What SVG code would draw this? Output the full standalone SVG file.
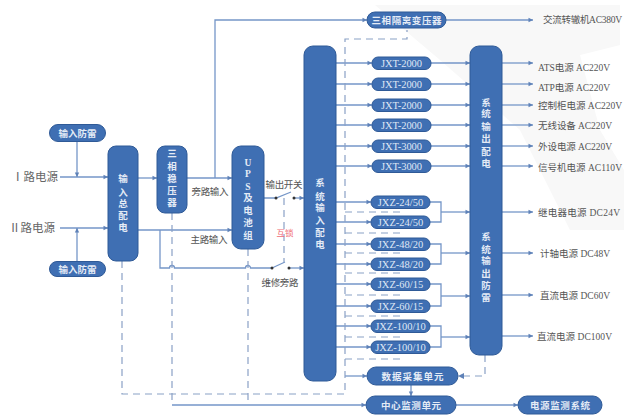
<svg xmlns="http://www.w3.org/2000/svg" width="624" height="417" viewBox="0 0 624 417">
<defs>
<marker id="a" markerUnits="userSpaceOnUse" markerWidth="6" markerHeight="6" refX="5" refY="3" orient="auto"><path d="M0.500,0.800L5,3L0.500,5.200Z" fill="#5f82b8"/></marker>
<style>
.f{font-family:"Noto Sans CJK SC","Liberation Serif",serif}
.n{fill:#3f6fb3;stroke:#2f5a97;stroke-width:1}
.s{fill:none;stroke:#7596c8;stroke-width:1.3}
.m{marker-end:url(#a)}
.d{fill:none;stroke:#8aa1c6;stroke-width:1.2;stroke-dasharray:7 5}
.w{fill:#dfe7f5;font-size:10.5px;text-anchor:middle;font-family:"Liberation Serif","Noto Sans CJK SC",serif}
.b{fill:#e4ebf6;font-size:9.500px;text-anchor:middle;font-family:"Noto Sans CJK SC","Liberation Serif",serif;font-weight:700}
.v{fill:#e4ebf6;font-size:9.500px;text-anchor:middle;font-family:"Liberation Serif","Noto Sans CJK SC",serif;font-weight:700}
.l{fill:#555;font-size:9.5px;font-family:"Liberation Serif","Noto Sans CJK SC",serif}
.g{fill:#666;font-size:11.500px;font-family:"Noto Sans CJK SC",serif}
.c{fill:#555;font-size:9.5px;text-anchor:middle;font-family:"Noto Sans CJK SC",serif}
</style>
</defs>
<rect width="624" height="417" fill="#fff"/>
<path d="M375,5L620,5L620,45L580,55L600,130L624,170L624,230L570,230L520,130L440,60Z" fill="#f8f8f8"/>
<g id="connectors">
<path class="s m" d="M60,177H108"/>
<path class="s m" d="M77,141V177"/>
<path class="s m" d="M60,228H108"/>
<path class="s m" d="M77,261V228"/>
<path class="s m" d="M138,178H157"/>
<path class="s m" d="M187,178H232"/>
<path class="s m" d="M215,178V20H367"/>
<path class="s m" d="M138,230H232"/>
<path class="s" d="M160,230V268H169.500a2.500,2.500 0 0 1 5,0H245.500a2.500,2.500 0 0 1 5,0H272"/>
<path class="s" d="M272,268L285,262"/>
<path class="s m" d="M289,268H304"/>
<path class="s" d="M264,198H276L291,192"/>
<path class="s m" d="M294,198H304"/>
<circle cx="276" cy="198" r="1.500" fill="#333"/><circle cx="294" cy="198" r="1.500" fill="#333"/>
<circle cx="272" cy="268" r="1.500" fill="#333"/><circle cx="289" cy="268" r="1.500" fill="#333"/>
<path class="s m" d="M446,20H533"/>
<path class="s m" d="M336,63H372"/><path class="s m" d="M431,63H470"/><path class="s m" d="M502,63H533"/>
<path class="s m" d="M336,84H372"/><path class="s m" d="M431,84H470"/><path class="s m" d="M502,84H533"/>
<path class="s m" d="M336,105H372"/><path class="s m" d="M431,105H470"/><path class="s m" d="M502,105H533"/>
<path class="s m" d="M336,125H372"/><path class="s m" d="M431,125H470"/><path class="s m" d="M502,125H533"/>
<path class="s m" d="M336,146H372"/><path class="s m" d="M431,146H470"/><path class="s m" d="M502,146H533"/>
<path class="s m" d="M336,166H372"/><path class="s m" d="M431,166H470"/><path class="s m" d="M502,166H533"/>
<path class="s m" d="M336,202H371"/><path class="s m" d="M336,222H371"/>
<path class="s m" d="M336,244H371"/><path class="s m" d="M336,264H371"/>
<path class="s m" d="M336,284H371"/><path class="s m" d="M336,306H371"/>
<path class="s m" d="M336,326H371"/><path class="s m" d="M336,347H371"/>
<path class="s" d="M430,202H441V222H430"/><path class="s m" d="M441,212H470"/><path class="s m" d="M502,212H533"/>
<path class="s" d="M430,244H441V264H430"/><path class="s m" d="M441,253H470"/><path class="s m" d="M502,253H533"/>
<path class="s" d="M430,284H441V306H430"/><path class="s m" d="M441,296H470"/><path class="s m" d="M502,295H533"/>
<path class="s" d="M430,326H441V347H430"/><path class="s m" d="M441,337H470"/><path class="s m" d="M502,336H533"/>
<path class="s m" d="M345,376H367"/>
<path class="s m" d="M411,385V396"/>
<path class="s m" d="M172,405H366"/>
<path class="s m" d="M456,405H518"/>
<path class="d" d="M122,261V394H345V39H407V30"/>
<path class="d" d="M172,213V405"/>
<path class="d" d="M248,249V405"/>
<path class="d" d="M284,198V262"/>
<path class="d" d="M345,212H400V207"/><path class="d" d="M345,233H400V228"/>
<path class="d" d="M345,253H400V250"/><path class="d" d="M345,273H400V270"/>
<path class="d" d="M345,295H400V290"/><path class="d" d="M345,316H400V312"/>
<path class="d" d="M345,337H400V332"/><path class="d" d="M345,359H400V353"/>
<path class="d" d="M485,355V376H460"/>
<path d="M464,373L458,376L464,379Z" fill="#5f82b8"/>
</g>
<g id="n1"><rect class="n" x="49.500" y="124.500" width="56" height="17" rx="8.500"/><text class="b" x="77.500" y="136.500" textLength="38">输入防雷</text></g>
<g id="n2"><rect class="n" x="49.500" y="261.500" width="56" height="15" rx="7.500"/><text class="b" x="77.500" y="272.500" textLength="38">输入防雷</text></g>
<g id="n3"><rect class="n" x="108" y="146" width="30" height="115" rx="8"/><text class="v"><tspan x="123" y="182">输</tspan><tspan x="123" y="196">入</tspan><tspan x="123" y="207">总</tspan><tspan x="123" y="219">配</tspan><tspan x="123" y="231">电</tspan></text></g>
<g id="n4"><rect class="n" x="157" y="146" width="30" height="67" rx="8"/><text class="v"><tspan x="172" y="157">三</tspan><tspan x="172" y="170">相</tspan><tspan x="172" y="182">稳</tspan><tspan x="172" y="194">压</tspan><tspan x="172" y="206">器</tspan></text></g>
<g id="n5"><rect class="n" x="232" y="146" width="32" height="103" rx="9"/><text class="v"><tspan x="248" y="166">U</tspan><tspan x="248" y="177">P</tspan><tspan x="248" y="190">S</tspan><tspan x="248" y="201">及</tspan><tspan x="248" y="214">电</tspan><tspan x="248" y="226">池</tspan><tspan x="248" y="239">组</tspan></text></g>
<g id="n6"><rect class="n" x="304" y="46" width="32" height="335" rx="9"/><text class="v"><tspan x="320" y="186">系</tspan><tspan x="320" y="200">统</tspan><tspan x="320" y="211">输</tspan><tspan x="320" y="224">入</tspan><tspan x="320" y="236">配</tspan><tspan x="320" y="248">电</tspan></text></g>
<g id="n7"><rect class="n" x="470" y="46" width="32" height="309" rx="9"/><text class="v"><tspan x="486" y="106">系</tspan><tspan x="486" y="117">统</tspan><tspan x="486" y="130">输</tspan><tspan x="486" y="142">出</tspan><tspan x="486" y="155">配</tspan><tspan x="486" y="167">电</tspan><tspan x="486" y="240">系</tspan><tspan x="486" y="253">统</tspan><tspan x="486" y="264">输</tspan><tspan x="486" y="277">出</tspan><tspan x="486" y="289">防</tspan><tspan x="486" y="301">雷</tspan></text></g>
<g id="n8"><rect class="n" x="367" y="12" width="79" height="16" rx="8"/><text class="b" x="406.500" y="24" textLength="70">三相隔离变压器</text></g>
<g id="j1"><rect class="n" x="372" y="57" width="59" height="12.500" rx="6"/><text class="w" x="401.500" y="67" textLength="41">JXT-2000</text></g>
<g id="j2"><rect class="n" x="372" y="78" width="59" height="12.500" rx="6"/><text class="w" x="401.500" y="88" textLength="41">JXT-2000</text></g>
<g id="j3"><rect class="n" x="372" y="99" width="59" height="12.500" rx="6"/><text class="w" x="401.500" y="109" textLength="41">JXT-2000</text></g>
<g id="j4"><rect class="n" x="372" y="119" width="59" height="12.500" rx="6"/><text class="w" x="401.500" y="129" textLength="41">JXT-2000</text></g>
<g id="j5"><rect class="n" x="372" y="140" width="59" height="12.500" rx="6"/><text class="w" x="401.500" y="150" textLength="41">JXT-3000</text></g>
<g id="j6"><rect class="n" x="372" y="160" width="59" height="12.500" rx="6"/><text class="w" x="401.500" y="170" textLength="41">JXT-3000</text></g>
<g id="z1"><rect class="n" x="371" y="196" width="59" height="12.500" rx="6"/><text class="w" x="400.500" y="206">JXZ-24/50</text></g>
<g id="z2"><rect class="n" x="371" y="216" width="59" height="12.500" rx="6"/><text class="w" x="400.500" y="226">JXZ-24/50</text></g>
<g id="z3"><rect class="n" x="371" y="238" width="59" height="12.500" rx="6"/><text class="w" x="400.500" y="248">JXZ-48/20</text></g>
<g id="z4"><rect class="n" x="371" y="258" width="59" height="12.500" rx="6"/><text class="w" x="400.500" y="268">JXZ-48/20</text></g>
<g id="z5"><rect class="n" x="371" y="278" width="59" height="12.500" rx="6"/><text class="w" x="400.500" y="288">JXZ-60/15</text></g>
<g id="z6"><rect class="n" x="371" y="300" width="59" height="12.500" rx="6"/><text class="w" x="400.500" y="310">JXZ-60/15</text></g>
<g id="z7"><rect class="n" x="371" y="320" width="59" height="12.500" rx="6"/><text class="w" x="400.500" y="330">JXZ-100/10</text></g>
<g id="z8"><rect class="n" x="371" y="341" width="59" height="12.500" rx="6"/><text class="w" x="400.500" y="351">JXZ-100/10</text></g>
<g id="n9"><rect class="n" x="367" y="367" width="91" height="18" rx="9"/><text class="b" x="412.500" y="380" textLength="62">数据采集单元</text></g>
<g id="n10"><rect class="n" x="366" y="396" width="90" height="18" rx="9"/><text class="b" x="411" y="409" textLength="60">中心监测单元</text></g>
<g id="n11"><rect class="n" x="518" y="396" width="84" height="18" rx="9"/><text class="b" x="560" y="409" textLength="60">电源监测系统</text></g>
<g id="labels">
<text class="g" x="12" y="181">Ⅰ路电源</text>
<text class="g" x="9" y="232">Ⅱ路电源</text>
<text class="c" x="210" y="195" textLength="37">旁路输入</text>
<text class="c" x="209" y="243" textLength="37">主路输入</text>
<text class="c" x="284" y="188" textLength="37">输出开关</text>
<text class="c" x="280" y="286" textLength="37">维修旁路</text>
<text x="285" y="236" fill="#ef6a74" font-size="8.500" text-anchor="middle" class="f" textLength="17">互锁</text>
<text class="l" x="543" y="23" textLength="79">交流转辙机AC380V</text>
<text class="l" x="538" y="71" textLength="72">ATS电源  AC220V</text>
<text class="l" x="538" y="91" textLength="72">ATP电源  AC220V</text>
<text class="l" x="538" y="109" textLength="84">控制柜电源  AC220V</text>
<text class="l" x="538" y="129" textLength="74">无线设备  AC220V</text>
<text class="l" x="538" y="150" textLength="74">外设电源  AC220V</text>
<text class="l" x="538" y="171" textLength="84">信号机电源  AC110V</text>
<text class="l" x="538" y="216" textLength="82">继电器电源  DC24V</text>
<text class="l" x="540" y="257" textLength="70">计轴电源  DC48V</text>
<text class="l" x="540" y="299" textLength="70">直流电源  DC60V</text>
<text class="l" x="537" y="340" textLength="75">直流电源  DC100V</text>
</g>
</svg>
